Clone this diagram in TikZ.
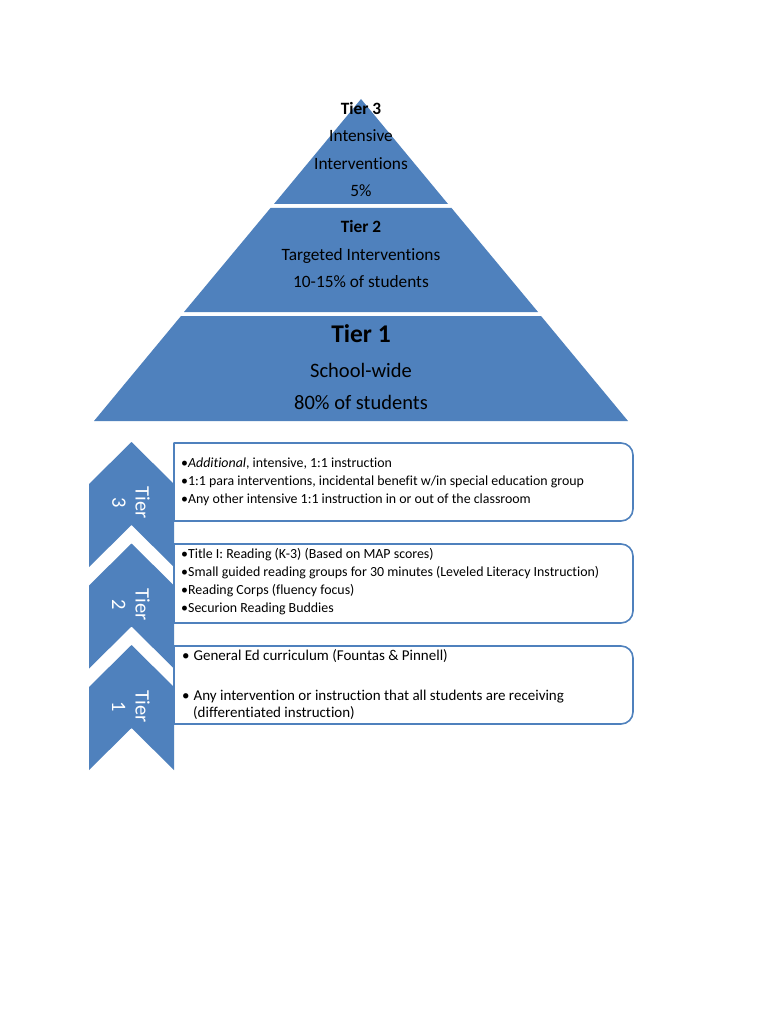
\documentclass[tikz,border=0pt]{standalone}
\usepackage{fontspec}
\setmainfont{Carlito}[Ligatures={NoCommon,NoContextual}]
\definecolor{tierblue}{HTML}{4F81BD}
\tikzset{
  tierfill/.style={fill=tierblue, draw=none},
  pyrtxt/.style={font=\fontsize{17.3}{20}\selectfont, text=black, inner sep=0pt, anchor=base},
  pyrhead/.style={font=\fontsize{17.3}{20}\selectfont\bfseries, text=black, inner sep=0pt, anchor=base},
  bigtxt/.style={font=\fontsize{20.5}{24}\selectfont, text=black, inner sep=0pt, anchor=base},
  bighead/.style={font=\fontsize{25.5}{30}\selectfont\bfseries, text=black, inner sep=0pt, anchor=base},
  chevlabel/.style={font=\fontsize{20.5}{23.4}\selectfont, text=white, align=center, rotate=-90, inner sep=0pt},
  listbox/.style={fill=white, draw=tierblue, line width=1.6pt, line join=round},
  boxtxt/.style={font=\fontsize{13.9}{16}\selectfont, text=black, anchor=base west, inner sep=0pt},
  boxtxtb/.style={font=\fontsize{15}{17}\selectfont, text=black, anchor=base west, inner sep=0pt}
}
\begin{document}
\begin{tikzpicture}[x=1pt,y=-1pt]
\useasboundingbox (0,0) rectangle (768,1024);
\fill[white] (0,0) rectangle (768,1024);

% ---------------- pyramid ----------------
\fill[tierfill] (361,99) -- (448,204) -- (274,204) -- cycle;
\fill[tierfill] (270.5,208) -- (451.5,208) -- (538,312) -- (184,312) -- cycle;
\fill[tierfill] (181,316) -- (541,316) -- (628,421) -- (94,421) -- cycle;

\node[pyrhead] (t3a) at (361,115) {Tier 3};
\node[pyrtxt]  (t3b) at (361,142) {Intensive};
\node[pyrtxt]  (t3c) at (361,169.5) {Interventions};
\node[pyrtxt]  (t3d) at (361,197) {5\%};

\node[pyrhead] (t2a) at (361,232.5) {Tier 2};
\node[pyrtxt]  (t2b) at (361,260.5) {Targeted Interventions};
\node[pyrtxt]  (t2c) at (361,287.5) {10-15\% of students};

\node[bighead] (t1a) at (361,342.5) {Tier 1};
\node[bigtxt]  (t1b) at (361,377.5) {School-wide};
\node[bigtxt]  (t1c) at (361,409.5) {80\% of students};

% ---------------- list boxes ----------------
\foreach \yt/\yb in {443/521, 544/623, 646/724}{
  \pgfmathsetmacro{\ya}{\yt+12}
  \pgfmathsetmacro{\yc}{\yb-12}
  \pgfmathsetmacro{\ytc}{\yt+5.4}
  \pgfmathsetmacro{\ybc}{\yb-5.4}
  \draw[listbox] (174,\yt) -- (621,\yt) .. controls (627.6,\yt) and (633,\ytc) .. (633,\ya)
     -- (633,\yc) .. controls (633,\ybc) and (627.6,\yb) .. (621,\yb) -- (174,\yb) -- cycle;
}

% ---------------- chevrons ----------------
\foreach \y in {442, 543.5, 645}{
  \fill[tierfill] (131.5,\y) -- (174,\y+42) -- (174,\y+125) -- (131.5,\y+83)
     -- (89,\y+125) -- (89,\y+42) -- cycle;
}
\node[chevlabel] (c3) at (131,503) {Tier\\3};
\node[chevlabel] (c2) at (131,605) {Tier\\2};
\node[chevlabel] (c1) at (131,707) {Tier\\1};

% ---------------- box texts ----------------
\node[boxtxt] (b3a) at (181,467) {•\textit{Additional}, intensive, 1:1 instruction};
\node[boxtxt] (b3b) at (181,485) {•1:1 para interventions, incidental benefit w/in special education group};
\node[boxtxt] (b3c) at (181,503) {•Any other intensive 1:1 instruction in or out of the classroom};

\node[boxtxt] (b2a) at (181,558.5) {•Title I: Reading (K-3) (Based on MAP scores)};
\node[boxtxt] (b2b) at (181,576.5) {•Small guided reading groups for 30 minutes (Leveled Literacy Instruction)};
\node[boxtxt] (b2c) at (181,594.5) {•Reading Corps (fluency focus)};
\node[boxtxt] (b2d) at (181,612.5) {•Securion Reading Buddies};

\node[boxtxtb] (b1a) at (182,660) {•\hspace{4pt}General Ed curriculum (Fountas \& Pinnell)};
\node[boxtxtb] (b1b) at (182,700) {•\hspace{4pt}Any intervention or instruction that all students are receiving};
\node[boxtxtb] (b1c) at (193,717) {(differentiated instruction)};
\end{tikzpicture}
\end{document}
